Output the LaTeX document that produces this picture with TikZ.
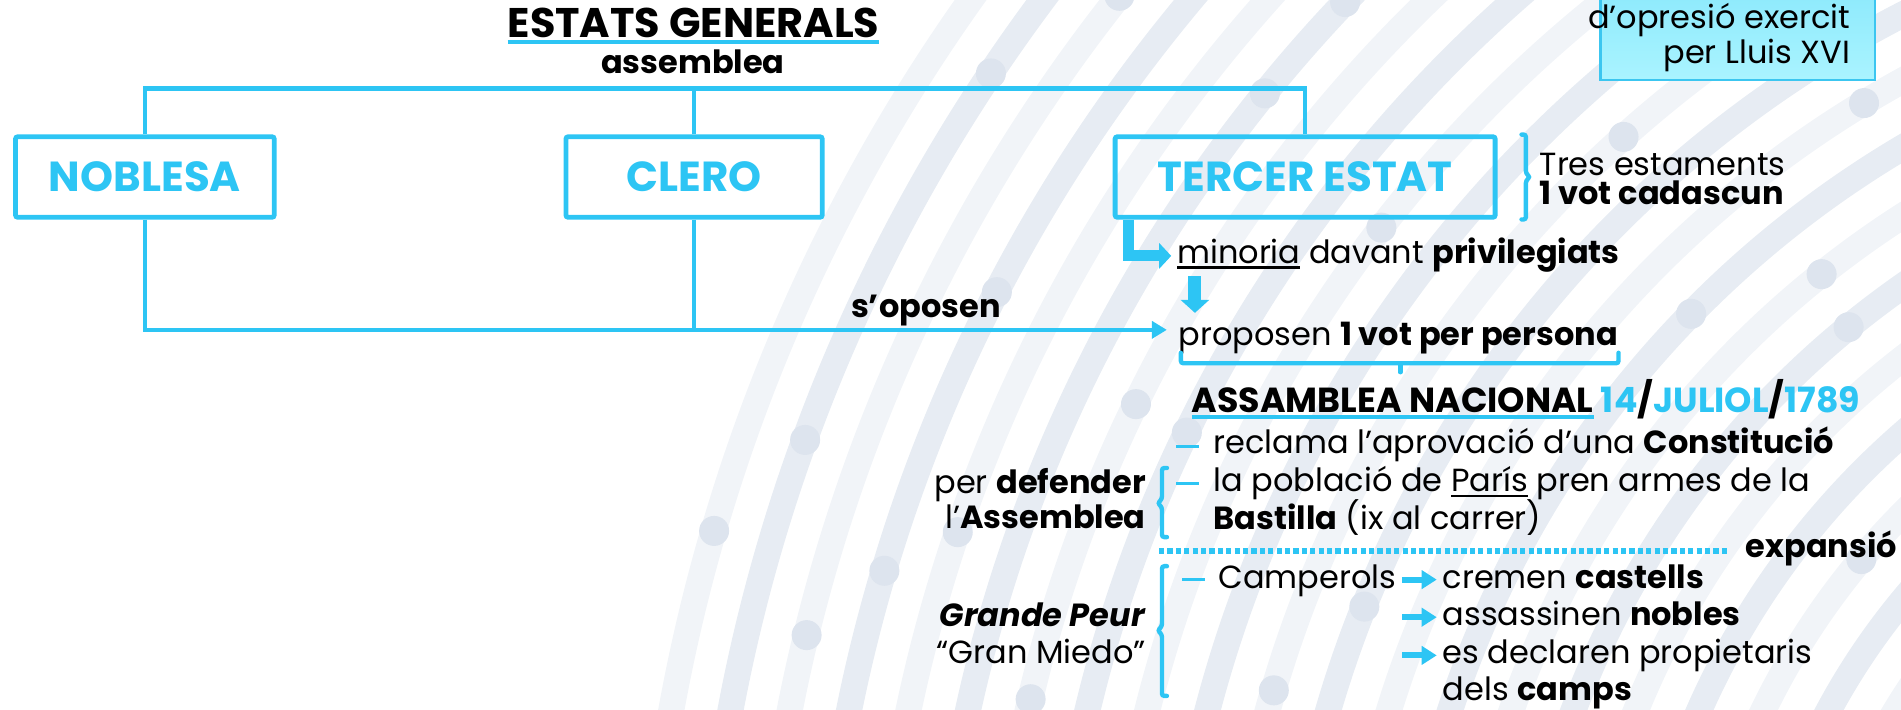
\documentclass[tikz,border=0pt]{standalone}
\usepackage{fontspec}
\setmainfont{Poppins}
\usetikzlibrary{arrows.meta,calc}
\definecolor{cy}{RGB}{45,197,244}
\definecolor{bgA}{RGB}{241,244,248}
\definecolor{bgB}{RGB}{231,236,243}
\definecolor{bgDot}{RGB}{221,228,238}
\definecolor{boxTop}{RGB}{140,233,252}
\definecolor{boxBot}{RGB}{170,244,255}
\definecolor{boxEdge}{RGB}{60,198,240}
\newcommand\fb{\fontsize{16}{19}\selectfont}
\newcommand\ftitle{\fontsize{20.7}{24}\selectfont}
\newcommand\fnac{\fontsize{17.4}{21}\selectfont}
\newcommand\flab{\fontsize{21}{25}\selectfont\bfseries}
\newcommand\myul[4]{\setbox0=\hbox{#4}\rlap{\color{#1}\rule[\dimexpr-#3-#2/2\relax]{\wd0}{#2}}\box0\relax}
\newcommand\cyt[1]{\textcolor{cy}{#1}}
\begin{document}
\begin{tikzpicture}[x=0.6062pt, y=-0.6062pt,
  txt/.style={inner sep=0pt, outer sep=0pt, font=\fb, anchor=base west},
  rtxt/.style={txt, anchor=base east},
  ebox/.style={draw=cy, line width=2.4pt, inner sep=0pt, minimum height=40.2pt, font=\flab, text=cy, rounded corners=1pt},
  conn/.style={draw=cy, line width=2.2pt},
  joinarrow/.style={conn, -{Triangle[width=8.5pt,length=7.5pt]}},
  fatarrow/.style={draw=cy, line width=5.5pt, line join=miter, -{Triangle[width=12.5pt,length=6pt]}},
  downarrow/.style={draw=cy, line width=6.5pt, -{Triangle[width=14pt,length=6.5pt]}},
  smallarrow/.style={draw=cy, line width=3pt, -{Triangle[width=9pt,length=7.5pt]}},
  brk/.style={draw=cy, line width=2.2pt, rounded corners=1.2pt, line cap=round},
  dashmark/.style={draw=cy, line width=1.6pt},
  dotline/.style={draw=cy, line width=2.6pt, dash pattern=on 2.6pt off 1.6pt}]
\useasboundingbox (0,0) rectangle (1568,585.6);
% background arcs
\begin{scope}
\clip (0,0) rectangle (1568,585.6);
\coordinate (bgc) at (2000,850);
\foreach \r in {1470,1374,1278,1182,1086,990,894,798,702,606,510}
  \draw[bgA, line width=13pt] (bgc) circle[radius=\r*0.6062pt];
\foreach \r in {1422,1326,1230,1134,1038,942,846,750,654,558}
  \draw[bgB, line width=13pt] (bgc) circle[radius=\r*0.6062pt];
\foreach \R/\px/\py in {1422/812/57, 1470/586/437, 1422/670/365, 1374/666/524,
   1326/737/473, 1326/803/231, 1278/805/444, 1374/934/5, 1230/1113/5,
   1230/1026/63, 1182/864/580, 1182/924/327, 1134/969/352, 990/1029/563,
   1086/1128/179, 942/1132/503, 990/1341/115, 846/1394/258, 798/1504/228,
   894/1529/71, 750/1529/275, 606/1553/476}
  \fill[bgDot] ($(bgc)!\R*0.6062pt!(\px,\py)$) circle[radius=7.5pt];
\end{scope}
% top right box
\shade[top color=boxTop, bottom color=boxBot] (1320,-10) rectangle (1546.5,66);
\draw[boxEdge, line width=1.2pt] (1320,-10) rectangle (1546.5,66);
\node[rtxt] (opresio) at (1526,23.4) {d’opresió exercit};
\node[rtxt] (lluis) at (1526,52) {per Lluis XVI};
% title
\node[txt, anchor=base, font=\ftitle] (title) at (572,30.8) {\myul{cy}{2pt}{2.4pt}{\textbf{ESTATS GENERALS}}};
\node[txt, anchor=base] (assemblea) at (571.5,61) {\textbf{assemblea}};
% estates boxes
\node[ebox, minimum width=129.3pt] (noblesa) at (119.5,146) {NOBLESA};
\node[ebox, minimum width=128.1pt] (clero) at (572.5,146) {CLERO};
\node[ebox, minimum width=190pt] (tercer) at (1076.5,146) {TERCER ESTAT};
\coordinate (topline) at (0,73);
\draw[conn] (noblesa.north) -- (noblesa.north |- topline) -- (tercer.north |- topline) -- (tercer.north);
\draw[conn] (clero.north) -- (clero.north |- topline);
% brace right of tercer
\draw[brk] (1255,111) -- (1258.6,111) -- (1258.6,143) -- (1262,146) -- (1258.6,149) -- (1258.6,181) -- (1255,181);
\node[txt] (tres) at (1270,145) {Tres estaments};
\node[txt] (cadascun) at (1270,169) {\textbf{1 vot cadascun}};
% minoria / proposen
\node[txt] (minoria) at (971,217) {\myul{black}{1.2pt}{2.2pt}{minoria} davant \textbf{privilegiats}};
\node[txt] (proposen) at (972,284.6) {proposen \textbf{1 vot per persona}};
\coordinate (elbx) at (930.5,0);
\coordinate (mintgt) at ([xshift=-3pt,yshift=3.6pt]minoria.base west);
\draw[fatarrow] (tercer.south -| elbx) |- (mintgt);
\coordinate (dx) at (985.6,0);
\coordinate (ds) at ([yshift=-6.7pt]minoria.base);
\coordinate (de) at ([yshift=16.1pt]proposen.base);
\draw[downarrow] (ds -| dx) -- (de -| dx);
\coordinate (ptgt) at ([xshift=-5.8pt,yshift=7.6pt]proposen.base west);
\draw[joinarrow] (noblesa.south) |- (ptgt);
\draw[conn] (clero.south) -- (clero.south |- ptgt);
\node[txt] (oposen) at (702,262) {\textbf{s’oposen}};
% bracket under proposen
\draw[brk] (974,291) -- (974,299.6) -- (1335,299.6) -- (1335,291);
\draw[brk] (1155,299.6) -- (1155,307);
% assemblea nacional
\node[txt, font=\fnac] (assnac) at (983,340) {\textbf{\myul{cy}{1.8pt}{2.4pt}{ASSAMBLEA NACIONAL} \cyt{14}/\cyt{JULIOL}/\cyt{1789}}};
\draw[dashmark] (970,368.5) -- (989,368.5);
\node[txt] (reclama) at (1001,374) {reclama l’aprovació d’una \textbf{Constitució}};
\draw[dashmark] (970,399) -- (989,399);
\node[txt] (poblacio) at (1001,405.5) {la població de \myul{black}{1.2pt}{2.2pt}{París} pren armes de la};
\node[txt] (bastilla) at (1001,437) {\textbf{Bastilla} (ix al carrer)};
\draw[brk] (962.5,386) -- (958.4,386) -- (958.4,411.5) -- (955,415) -- (958.4,418.5) -- (958.4,443) -- (962.5,443);
\node[rtxt] (perdef) at (945,407) {per \textbf{defender}};
\node[rtxt] (lass) at (945,436) {l’\textbf{Assemblea}};
% separator
\draw[dotline] (956,454.5) -- (1425,454.5);
\node[txt] (expansio) at (1440,460) {\textbf{expansió}};
% grande peur
\draw[brk] (962.5,467) -- (958.4,467) -- (958.4,516.5) -- (955,520) -- (958.4,523.5) -- (958.4,574) -- (962.5,574);
\node[rtxt] (grande) at (945,517) {\textbf{\textit{Grande Peur}}};
\node[rtxt] (miedo) at (945,547) {“Gran Miedo”};
\draw[dashmark] (975,478) -- (994,478);
\node[txt] (camperols) at (1005,485) {Camperols};
\node[txt] (cremen) at (1190,485) {cremen \textbf{castells}};
\node[txt] (assassinen) at (1190,516) {assassinen \textbf{nobles}};
\node[txt] (declaren) at (1190,547.5) {es declaren propietaris};
\node[txt] (dels) at (1190,578) {dels \textbf{camps}};
\coordinate (astart) at ([xshift=3pt,yshift=4.2pt]camperols.base east);
\coordinate (a1) at ([xshift=-3pt,yshift=4.2pt]cremen.base west);
\coordinate (a2) at ([xshift=-3pt,yshift=4.2pt]assassinen.base west);
\coordinate (a3) at ([xshift=-3pt,yshift=4.2pt]declaren.base west);
\draw[smallarrow] (astart) -- (a1);
\draw[smallarrow] (astart |- a2) -- (a2);
\draw[smallarrow] (astart |- a3) -- (a3);
\end{tikzpicture}
\end{document}
